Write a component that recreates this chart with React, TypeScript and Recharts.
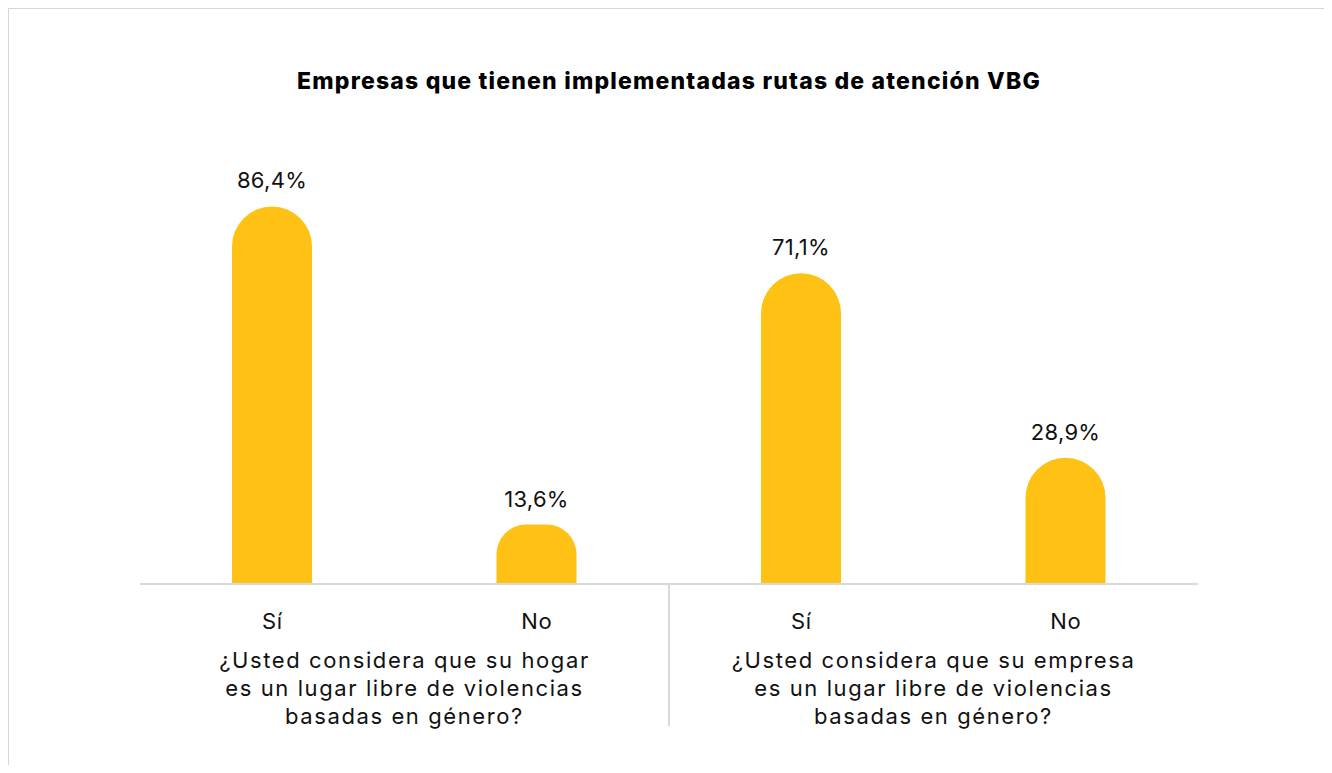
import { BarChart, Bar, XAxis, YAxis, LabelList } from 'recharts';

const answers = ['Sí', 'No', 'Sí', 'No'];
const questions = [
  '¿Usted considera que su hogar|es un lugar libre de violencias|basadas en género?',
  '¿Usted considera que su hogar|es un lugar libre de violencias|basadas en género?',
  '¿Usted considera que su empresa|es un lugar libre de violencias|basadas en género?',
  '¿Usted considera que su empresa|es un lugar libre de violencias|basadas en género?',
];
const values = [86.4, 13.6, 71.1, 28.9];

const title = 'Empresas que tienen implementadas rutas de atención VBG';

const data = answers.map((answer, i) => ({
  answer,
  question: questions[i],
  value: values[i],
}));

const FONT = 'Inter, "Open Sans", sans-serif';
const BAR_COLOR = '#FFC114';
const GRID = '#d9d9d9';

const formatPct = (v: number) => v.toFixed(1).replace('.', ',') + '%';

function AnswerTick({ x, y, payload }: any) {
  return (
    <text x={x} y={y} dy={37} textAnchor="middle" fontSize={22} fontFamily={FONT} fill="#111" letterSpacing={0.6}>
      {payload.value}
    </text>
  );
}

function QuestionTick({ x, y, payload, index }: any) {
  const lines = String(payload.value).split('|');
  const half = payload.offset ?? 264.5;
  return (
    <g>
      {index === 0 && (
        <line x1={x + half} y1={y - 64} x2={x + half} y2={y + 78} stroke={GRID} strokeWidth={2} />
      )}
      <text textAnchor="middle" fontSize={22} fontFamily={FONT} fill="#111" letterSpacing={1.6}>
        {lines.map((l, i) => (
          <tspan key={i} x={x} y={y + 20 + i * 28}>
            {l}
          </tspan>
        ))}
      </text>
    </g>
  );
}

export default function App() {
  return (
    <div
      style={{
        position: 'relative',
        margin: -8,
        width: 1332,
        height: 773,
        overflow: 'hidden',
        background: '#fff',
      }}
    >
      <div
        style={{
          position: 'absolute',
          left: 7,
          top: 7,
          width: 1319,
          height: 800,
          borderTop: '2px solid #d6d6d6',
          borderLeft: '2px solid #d6d6d6',
          borderRight: '2px solid #d6d6d6',
        }}
      />
      <div
        style={{
          position: 'absolute',
          top: 67,
          left: 0,
          width: 1338,
          textAlign: 'center',
          fontFamily: FONT,
          fontWeight: 800,
          fontSize: 23,
          letterSpacing: 1.2,
          color: '#000',
        }}
      >
        {title}
      </div>
      <div style={{ position: 'absolute', left: 0, top: 0 }}>
        <BarChart
          width={1332}
          height={773}
          data={data}
          margin={{ top: 147, right: 134, left: 140, bottom: 0 }}
          barSize={80}
        >
          <YAxis hide domain={[0, 100]} />
          <XAxis
            dataKey="answer"
            height={56}
            axisLine={{ stroke: GRID, strokeWidth: 2 }}
            tickLine={false}
            tick={<AnswerTick />}
            interval={0}
          />
          <XAxis
            xAxisId="group"
            dataKey="question"
            allowDuplicatedCategory={false}
            height={133}
            axisLine={false}
            tickLine={false}
            tick={<QuestionTick />}
            interval={0}
          />
          <Bar dataKey="value" fill={BAR_COLOR} radius={[40, 40, 0, 0]} isAnimationActive={false}>
            <LabelList
              dataKey="value"
              position="top"
              offset={18}
              formatter={(v: any) => formatPct(Number(v))}
              style={{ fontSize: 22, fontFamily: FONT, fill: '#111', letterSpacing: 0.3 }}
            />
          </Bar>
        </BarChart>
      </div>
    </div>
  );
}
